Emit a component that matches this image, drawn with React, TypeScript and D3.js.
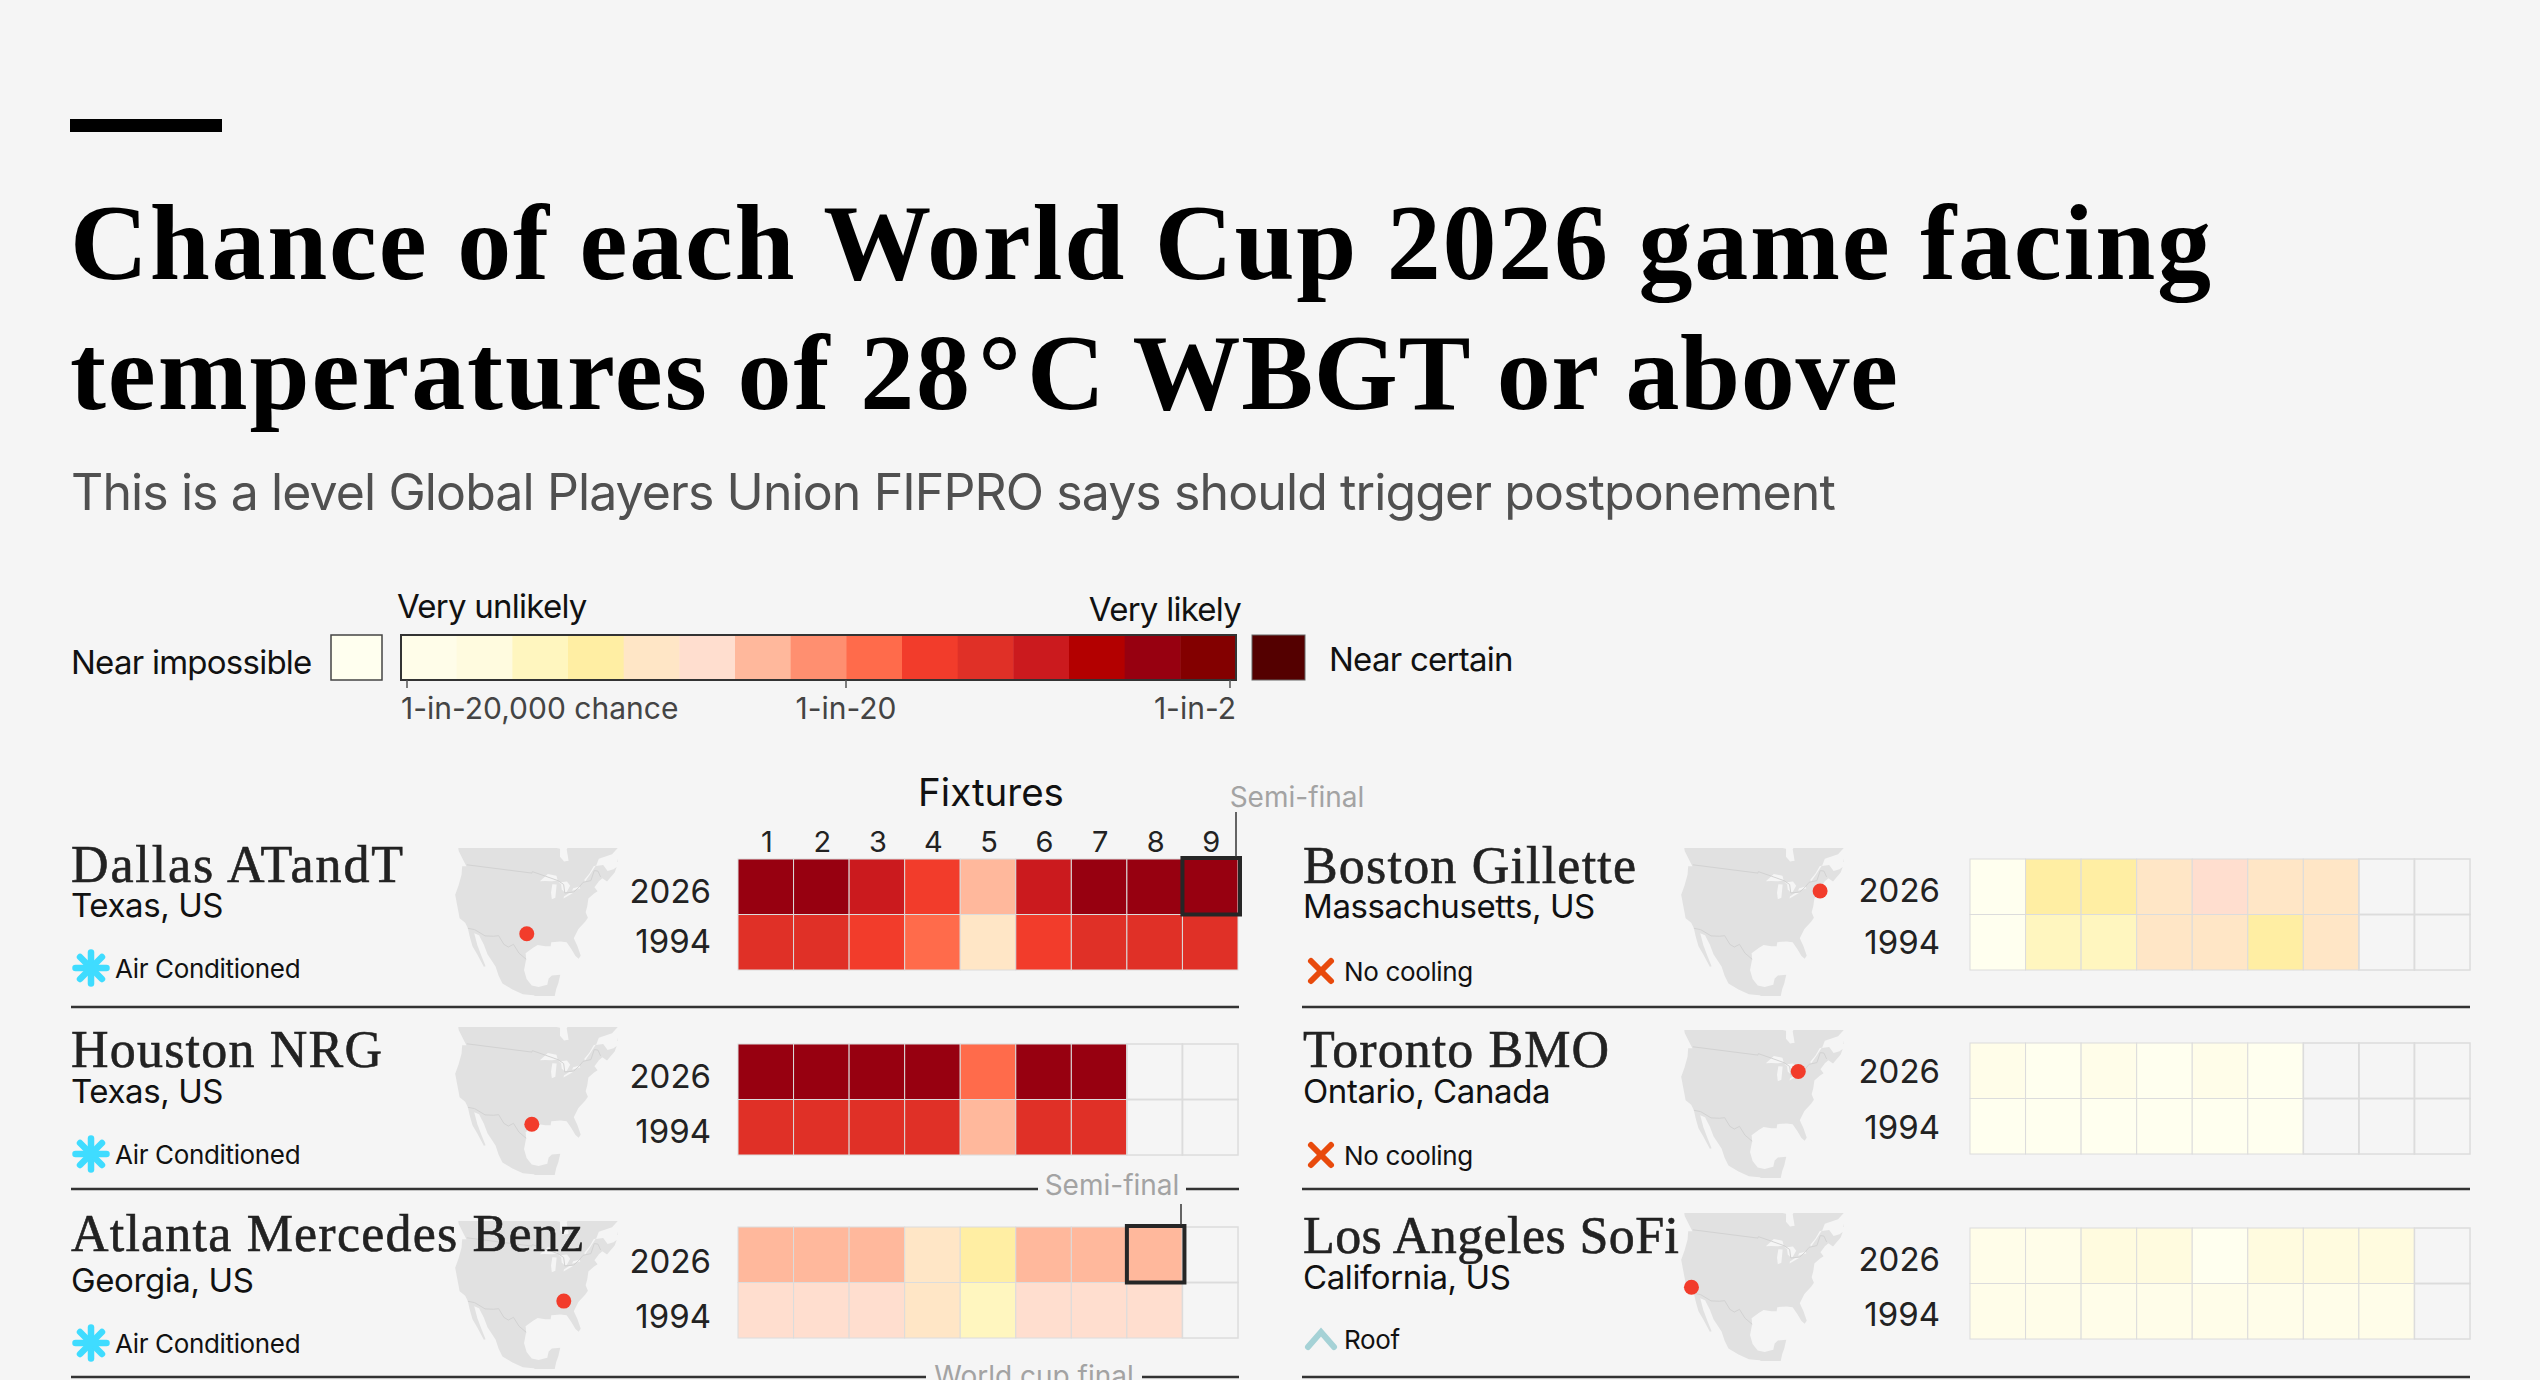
import React from "react";
import * as d3 from "d3";

const W = 2540, H = 1380;
const BG = "#f5f5f5";

const binColors = ["#fffde9","#fffbdf","#fff6bf","#ffeea3","#ffe6c6","#ffdecf","#ffb89c","#ff8f70","#ff6b4b","#f23c2b","#e03027","#cb1a1e","#b30000","#970010","#830000"];
const nearImpossible = "#ffffef";
const nearCertain = "#540000";
const fixtures = [1,2,3,4,5,6,7,8,9];
const years = ["2026","1994"];

const dallas2026 = [13,13,11,9,6,11,13,13,13];
const dallas1994 = [10,10,9,8,4,9,10,10,10];
const houston2026 = [13,13,13,13,8,13,13,null,null];
const houston1994 = [10,10,10,10,6,10,10,null,null];
const atlanta2026 = [6,6,6,4,3,6,6,6,null];
const atlanta1994 = [5,5,5,4,2,5,5,5,null];
const boston2026 = [-1,3,3,4,5,4,4,null,null];
const boston1994 = [-1,2,2,4,4,3,4,null,null];
const toronto2026 = [0,-1,0,-1,0,-1,null,null,null];
const toronto1994 = [-1,-1,-1,-1,-1,-1,null,null,null];
const la2026 = [0,0,1,1,-1,1,1,1,null];
const la1994 = [0,0,0,0,0,0,0,0,null];

const stadiums = [
  { name:"Dallas ATandT", region:"Texas, US", cool:"ac", lon:-97.09, lat:32.75, v:[dallas2026,dallas1994], hi:8 },
  { name:"Houston NRG", region:"Texas, US", cool:"ac", lon:-95.41, lat:29.68, v:[houston2026,houston1994], hi:-1 },
  { name:"Atlanta Mercedes Benz", region:"Georgia, US", cool:"ac", lon:-84.4, lat:33.75, v:[atlanta2026,atlanta1994], hi:7 },
  { name:"Boston Gillette", region:"Massachusetts, US", cool:"no", lon:-71.26, lat:42.09, v:[boston2026,boston1994], hi:-1 },
  { name:"Toronto BMO", region:"Ontario, Canada", cool:"no", lon:-79.42, lat:43.63, v:[toronto2026,toronto1994], hi:-1 },
  { name:"Los Angeles SoFi", region:"California, US", cool:"roof", lon:-118.34, lat:33.95, v:[la2026,la1994], hi:-1 },
];
const coolLabels: any = { ac:"Air Conditioned", no:"No cooling", roof:"Roof" };

// layout per panel, same order as stadiums
const panelCol = [0,0,0,1,1,1];
const gridTop = [859,1044,1227,859,1043,1228];
const mapTop = [848,1027,1221,848,1030,1213];
const nameBase = [882,1067,1251,883,1067,1253];
const nameWidth = [332,311,512,333,306,376];
const regionBase = [917,1103,1292,918,1103,1289];
const coolBase = [978,1164,1353,981,1165,1349];
const y2026Base = [903,1088,1273,902,1083,1271];
const y1994Base = [953,1143,1328,954,1139,1326];

// North America outline, lon/lat (coarse, read by eye)
const outline: [number,number][] = [
[-135,59],[-133,56],[-130,54.5],[-128,52],[-125,50],[-123,48.6],[-124.7,48.3],[-124,46],[-124,43],[-124.3,40.4],[-122.5,37.7],[-120.6,34.6],[-118.4,33.8],[-117.1,32.5],[-116,30.5],[-114.5,28],[-112.5,26],[-110,23],[-109.5,23.2],[-111,25.5],[-113,28.5],[-114.7,31.5],[-113,31.2],[-111,29],[-109.4,26.5],[-106.5,23.5],[-105.3,21],[-104,19],[-101,17.5],[-98,16.3],[-95,16],[-92.3,14.6],[-91,14],[-89.5,14],[-89,15.8],[-88.5,17.5],[-87.8,19],[-87,21.3],[-89.5,21.3],[-90.5,20.5],[-91,18.8],[-93.5,18.3],[-95.5,18.7],[-97,20.5],[-97.8,23],[-97.2,26],[-97.4,27.5],[-95,29],[-93.5,29.7],[-91,29.3],[-89.3,29.2],[-89,30.3],[-86,30.3],[-84,29.9],[-82.8,28],[-81.8,26],[-80.9,25.1],[-80.1,25.8],[-80.7,28.5],[-81.5,30.7],[-79.5,33],[-76.8,34.6],[-75.6,35.5],[-76,37],[-75,38.5],[-74,40.5],[-71.5,41.4],[-70,41.8],[-70.8,43],[-68.5,44.3],[-66.9,44.8],[-65.5,43.6],[-61.5,45.3],[-60,46.5],[-61.5,46.2],[-64,46.3],[-65,48.2],[-68,48.5],[-66,50.2],[-60,50.2],[-56,51.5],[-55.7,53],[-58,55],[-62,58],[-64.5,60.3],[-67,58.5],[-69.5,59],[-72,61.5],[-78,62.4],[-77.5,59],[-76.5,56.5],[-79,54.8],[-79,51.5],[-81,51.5],[-82.5,53],[-82,55.2],[-88,56.6],[-92.5,57],[-94.5,59],[-94,61],[-100,65],[-120,70],[-141,70],[-141,60],
];
const newfoundland: [number,number][] = [[-59,47.7],[-55.5,51.5],[-53,47.5],[-55.5,46.9]];
const lakes: [number,number][][] = [
 [[-92,46.7],[-88.5,48.6],[-85,47.9],[-84.7,46.6],[-87,46.5],[-90,46.7]],
 [[-87.7,41.7],[-86.3,42],[-85.3,45.5],[-87,45.7],[-87.8,43.5]],
 [[-84.5,46],[-81,46],[-80,44.7],[-81.7,43.2],[-82.5,43.1],[-83.5,44],[-83.5,45.5]],
 [[-83.2,41.6],[-79,42.8],[-79,42.9],[-81,42.8],[-83,42.1]],
 [[-79.6,43.3],[-76.3,43.5],[-76.4,44.1],[-79,43.9]],
 [[-74,45],[-71,46.8],[-68,48.6],[-69,48.6],[-71.3,47],[-74,45.6]],
];
const borders: [number,number][][] = [
 [[-123,49],[-95.2,49],[-95,49.4],[-89.5,48],[-84.5,46.5],[-82.5,45.3],[-82.5,43],[-79,42.9],[-76.5,44],[-74.7,45],[-71.5,45],[-69.2,47.4],[-67.8,47],[-67.4,45.3]],
 [[-117.1,32.5],[-114.8,32.5],[-111,31.3],[-108.2,31.5],[-106.5,31.8],[-104.5,29.6],[-103,29],[-101.4,29.8],[-99.5,27.5],[-97.2,25.9]],
];

const gridW = 500;
const colX = [738, 1970];
const rowH = 111;
const yearEnd = [711, 1940];
const textX = [71, 1303];
const mapX = [454, 1680];
const ruleY = [1007, 1189, 1377];
const ruleX = [[71,1239],[1302,2470]];

const SANS = "Inter, sans-serif";
const SERIF = "'Liberation Serif', serif";

const x9 = d3.scaleBand<number>().domain(fixtures).range([0, gridW]);
const y2 = d3.scaleBand<string>().domain(years).range([0, rowH]);
const colorOf = (v: number|null) => v === null ? "none" : v < 0 ? nearImpossible : binColors[v];

const proj = d3.geoAlbers().rotate([96,0]).center([0,38]).parallels([20,50]).scale(208).translate([76,66]);
const pl = d3.line<[number,number]>().x(d => proj(d)![0]).y(d => proj(d)![1]);
const closed = (r: [number,number][]) => (pl(r) || "") + "Z";
const land = closed(outline) + closed(newfoundland);
const lakesD = lakes.map(closed).join("");
const bordersD = borders.map(b => pl(b) || "").join("");

function MapIcon({id,x,y,lon,lat}:{id:number,x:number,y:number,lon:number,lat:number}) {
  const p = proj([lon,lat]) || [0,0];
  return <g transform={`translate(${x},${y})`}>
    <clipPath id={`mapclip${id}`}><rect x={-4} y={0} width={168} height={148}/></clipPath>
    <g clipPath={`url(#mapclip${id})`}>
      <path d={land} fill="#e1e1e1"/>
      <path d={lakesD} fill={BG}/>
      <path d={bordersD} fill="none" stroke="#d2d2d2" strokeWidth={1}/>
    </g>
    <circle cx={p[0]} cy={p[1]} r={7.5} fill="#f23c2b"/>
  </g>;
}

function CoolIcon({kind,x,y}:{kind:string,x:number,y:number}) {
  if (kind==="ac") {
    return <g transform={`translate(${x},${y})`} stroke="#3fdcff" strokeWidth={6.5} strokeLinecap="round">
      {d3.range(4).map(i => { const a = i*Math.PI/4; return <line key={i} x1={-15.5*Math.sin(a)} y1={-15.5*Math.cos(a)} x2={15.5*Math.sin(a)} y2={15.5*Math.cos(a)}/>; })}
    </g>;
  }
  if (kind==="no") {
    return <g transform={`translate(${x},${y})`} stroke="#e84a0c" strokeWidth={6} strokeLinecap="round">
      <line x1={-10} y1={-10} x2={10} y2={10}/><line x1={10} y1={-10} x2={-10} y2={10}/>
    </g>;
  }
  return <path transform={`translate(${x},${y})`} d="M-13,8 L0,-7 L13,8" fill="none" stroke="#a5d2d6" strokeWidth={6} strokeLinecap="round"/>;
}

function Panel({s,i}:{s:any,i:number}) {
  const c = panelCol[i];
  const gx = colX[c], gy = gridTop[i], tx = textX[c];
  const yearY = [y2026Base[i], y1994Base[i]];
  const labelX = tx + (s.cool==="ac" ? 44 : 41);
  return <g>
    <MapIcon id={i} x={mapX[c]} y={mapTop[i]} lon={s.lon} lat={s.lat}/>
    <text x={tx} y={nameBase[i]} fontFamily={SERIF} fontSize={52} textLength={nameWidth[i]} lengthAdjust="spacing" fill="#222" stroke="#222" strokeWidth={0.6}>{s.name}</text>
    <text x={tx} y={regionBase[i]} fontFamily={SANS} fontSize={33} letterSpacing={-0.4} fill="#111">{s.region}</text>
    <CoolIcon kind={s.cool} x={tx+(s.cool==="ac"?20:18)} y={coolBase[i]-10}/>
    <text x={labelX} y={coolBase[i]} fontFamily={SANS} fontSize={26} letterSpacing={-0.35} fill="#111">{coolLabels[s.cool]}</text>
    {years.map((yr,yi) => <text key={yr} x={yearEnd[c]} y={yearY[yi]} textAnchor="end" fontFamily={SANS} fontSize={33} fill="#222">{yr}</text>)}
    <g transform={`translate(${gx},${gy})`}>
      {years.map((yr,yi) => fixtures.map((f,fi) => <rect key={yr+f} x={x9(f)} y={y2(yr)} width={x9.bandwidth()} height={y2.bandwidth()} fill={colorOf(s.v[yi][fi])} stroke="#dcdcdc" strokeWidth={s.v[yi][fi]===null?1.5:1}/>))}
      {s.hi>=0 && <rect x={x9(fixtures[s.hi])!} y={-1} width={x9.bandwidth()+2} height={y2.bandwidth()+1} fill="none" stroke="#262626" strokeWidth={4}/>}
    </g>
  </g>;
}

const legendTickX = [407, 846, 1230];

export default function App() {
  const lx = d3.scaleBand<number>().domain(d3.range(binColors.length)).range([401,1236]);
  return <svg width={W} height={H} style={{position:"absolute",left:0,top:0,background:BG}} viewBox={`0 0 ${W} ${H}`}>
    <rect width={W} height={H} fill={BG}/>
    <rect x={70} y={119} width={152} height={13} fill="#000"/>
    <text x={70} y={279} fontFamily={SERIF} fontWeight={700} fontSize={108} letterSpacing={1.75} fill="#000">Chance of each World Cup 2026 game facing</text>
    <text x={70} y={409} fontFamily={SERIF} fontWeight={700} fontSize={108} letterSpacing={1.9} fill="#000">temperatures of 28<tspan dx={6}>°</tspan><tspan dx={4}>C</tspan><tspan letterSpacing={0.6}> WBGT or above</tspan></text>
    <text x={71} y={510} fontFamily={SANS} fontSize={50} letterSpacing={-0.9} fill="#505050">This is a level Global Players Union FIFPRO says should trigger postponement</text>

    <text x={71} y={674} fontFamily={SANS} fontSize={33} letterSpacing={-0.75} fill="#111">Near impossible</text>
    <rect x={331} y={635} width={51} height={45} fill={nearImpossible} stroke="#444" strokeWidth={1.5}/>
    <text x={397} y={618} fontFamily={SANS} fontSize={33} letterSpacing={-0.75} fill="#111">Very unlikely</text>
    <text x={1241} y={621} textAnchor="end" fontFamily={SANS} fontSize={33} letterSpacing={-0.75} fill="#111">Very likely</text>
    {binColors.map((c,i)=><rect key={c} x={lx(i)} y={635} width={lx.bandwidth()+0.5} height={45} fill={c}/>)}
    <rect x={401} y={635} width={835} height={45} fill="none" stroke="#333" strokeWidth={2}/>
    <rect x={1252} y={635} width={53} height={45} fill={nearCertain} stroke="#666" strokeWidth={1}/>
    <text x={1329} y={671} fontFamily={SANS} fontSize={33} letterSpacing={-0.75} fill="#111">Near certain</text>
    {legendTickX.map(t=><line key={t} x1={t} x2={t} y1={680} y2={688} stroke="#555" strokeWidth={1.5}/>)}
    <text x={401} y={719} fontFamily={SANS} fontSize={30} fill="#444">1-in-20,000 chance</text>
    <text x={846} y={719} textAnchor="middle" fontFamily={SANS} fontSize={30} fill="#444">1-in-20</text>
    <text x={1236} y={719} textAnchor="end" fontFamily={SANS} fontSize={30} fill="#444">1-in-2</text>

    <text x={991} y={806} textAnchor="middle" fontFamily={SANS} fontSize={38.5} fill="#111">Fixtures</text>
    {fixtures.map(f=><text key={f} x={colX[0]+x9(f)!+x9.bandwidth()/2+1} y={852} textAnchor="middle" fontFamily={SANS} fontSize={29} fill="#222">{f}</text>)}
    <text x={1297} y={807} textAnchor="middle" fontFamily={SANS} fontSize={28} fill="#a3a3a3">Semi-final</text>

    {stadiums.map((s,i)=><Panel key={s.name} s={s} i={i}/>)}

    <line x1={1236} x2={1236} y1={812} y2={857} stroke="#333" strokeWidth={1.5}/>
    <line x1={1181} x2={1181} y1={1204} y2={1225} stroke="#333" strokeWidth={1.5}/>

    {ruleY.map((y)=><g key={y}>
      {ruleX.map((r,ci)=><line key={ci} x1={r[0]} x2={r[1]} y1={y} y2={y} stroke="#333" strokeWidth={2.4}/>)}
    </g>)}
    <rect x={1038} y={1170} width={148} height={32} fill={BG}/>
    <text x={1112} y={1195} textAnchor="middle" fontFamily={SANS} fontSize={28} fill="#a3a3a3">Semi-final</text>
    <rect x={926} y={1362} width={216} height={18} fill={BG}/>
    <text x={1034} y={1386} textAnchor="middle" fontFamily={SANS} fontSize={28} fill="#a3a3a3">World cup final</text>
  </svg>;
}
